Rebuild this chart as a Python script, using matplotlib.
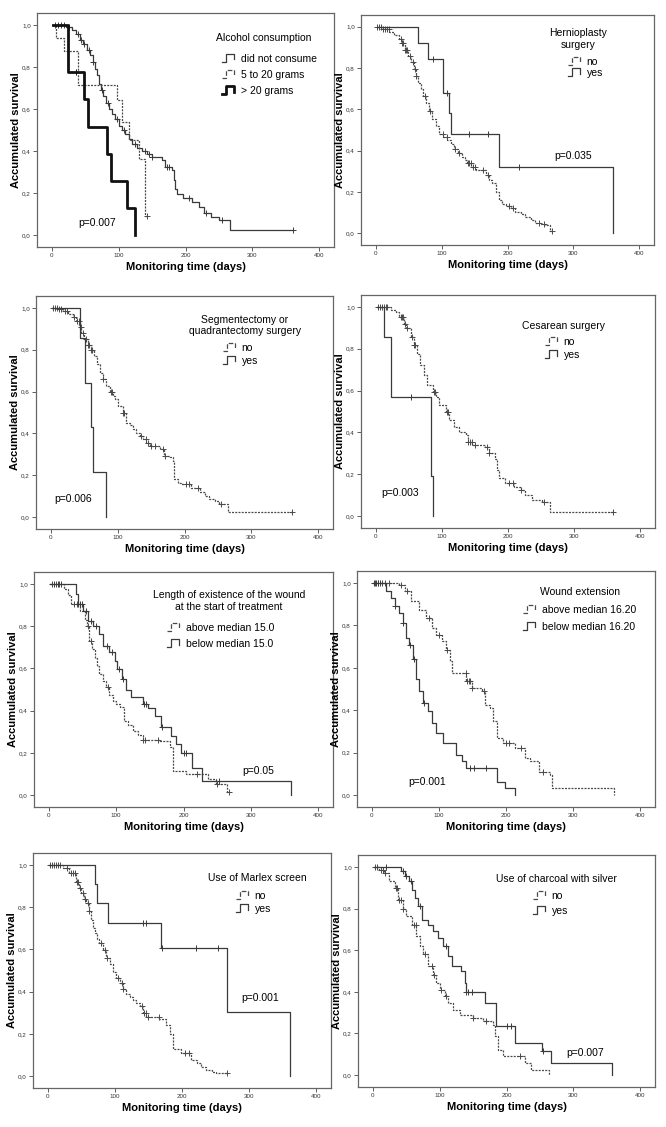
import numpy as np
import matplotlib
matplotlib.use("Agg")
import matplotlib.pyplot as plt
from matplotlib.lines import Line2D
from matplotlib.legend_handler import HandlerBase
from matplotlib.ticker import FuncFormatter

plt.rcParams["font.family"] = ["Liberation Sans", "DejaVu Sans"]

# ---- data (event times / survival after event / censored times)
# Alcohol consumption
alc_none_t = [22, 30, 36, 42, 47, 52, 57, 61, 64, 67, 70, 73, 77, 81, 86, 90, 95, 100, 105, 110, 115,
              120, 128, 135, 142, 150, 165, 170, 180, 183, 185, 188, 196, 210, 220, 228, 238, 250, 266]
alc_none_s = [0.99, 0.975, 0.955, 0.93, 0.91, 0.88, 0.855, 0.825, 0.79, 0.76, 0.72, 0.69, 0.66, 0.63,
              0.60, 0.575, 0.55, 0.52, 0.50, 0.48, 0.455, 0.435, 0.415, 0.40, 0.385, 0.37, 0.355, 0.325,
              0.31, 0.26, 0.22, 0.195, 0.175, 0.155, 0.135, 0.105, 0.085, 0.07, 0.025]
alc_none_c = [5, 10, 14, 18, 26, 40, 44, 48, 55, 62, 75, 84, 98, 108, 125, 140, 145, 150, 172, 175,
              205, 230, 255, 361]
alc_mid_t = [7, 19, 40, 97, 105, 115, 130, 140]
alc_mid_s = [0.94, 0.875, 0.715, 0.643, 0.54, 0.453, 0.361, 0.089]
alc_mid_c = [143]
alc_high_t = [24, 48, 54, 82, 88, 112, 124]
alc_high_s = [0.775, 0.646, 0.516, 0.387, 0.258, 0.129, 0.0]
alc_high_c = [36]

# Hernioplasty surgery
hern_no_t = [12, 21, 28, 36, 40, 44, 49, 54, 58, 61, 65, 69, 72, 76, 81, 86, 91, 96, 103, 109, 114,
             119, 125, 131, 136, 139, 145, 152, 167, 172, 177, 182, 187, 192, 197, 205, 212, 220, 227,
             235, 242, 250, 257, 264]
hern_no_s = [0.99, 0.973, 0.96, 0.94, 0.92, 0.887, 0.86, 0.83, 0.795, 0.76, 0.73, 0.70, 0.665, 0.63,
             0.59, 0.555, 0.52, 0.48, 0.465, 0.45, 0.43, 0.41, 0.39, 0.37, 0.355, 0.34, 0.32, 0.305,
             0.28, 0.26, 0.245, 0.20, 0.16, 0.14, 0.13, 0.12, 0.105, 0.095, 0.08, 0.065, 0.05, 0.045,
             0.04, 0.01]
hern_no_c = [3, 6, 9, 12, 15, 18, 20, 38, 40, 42, 44, 46, 48, 52, 57, 60, 62, 75, 82, 102, 108, 121,
             127, 140, 142, 144, 147, 150, 163, 170, 203, 208, 248, 255, 267]
hern_yes_t = [65, 80, 103, 111, 115, 187, 360]
hern_yes_s = [0.923, 0.846, 0.677, 0.580, 0.483, 0.322, 0.0]
hern_yes_c = [87, 109, 141, 170, 218]

# Segmentectomy or quadrantectomy surgery
seg_no_t = [10, 19, 26, 33, 38, 43, 46, 50, 55, 60, 64, 69, 74, 78, 83, 88, 93, 96, 101, 108, 113,
            118, 123, 128, 133, 138, 143, 148, 163, 170, 178, 183, 185, 190, 195, 210, 223, 230, 237,
            245, 252, 265]
seg_no_s = [0.995, 0.984, 0.97, 0.955, 0.937, 0.91, 0.88, 0.85, 0.825, 0.80, 0.77, 0.73, 0.69, 0.66,
            0.626, 0.60, 0.58, 0.563, 0.53, 0.50, 0.45, 0.44, 0.42, 0.404, 0.39, 0.372, 0.355, 0.34,
            0.325, 0.293, 0.285, 0.27, 0.18, 0.165, 0.157, 0.14, 0.118, 0.10, 0.086, 0.075, 0.062, 0.022]
seg_no_c = [3, 6, 9, 13, 16, 21, 24, 35, 40, 42, 45, 48, 52, 55, 57, 60, 62, 78, 90, 92, 108, 110,
            135, 142, 145, 150, 156, 168, 171, 202, 207, 220, 255, 361]
seg_yes_t = [44, 51, 60, 63, 82]
seg_yes_s = [0.857, 0.643, 0.429, 0.214, 0.0]
seg_yes_c = []

# Cesarean surgery
ces_no_t = [23, 31, 36, 43, 46, 53, 58, 63, 67, 73, 78, 86, 91, 96, 106, 111, 118, 126, 136, 139,
            146, 166, 171, 181, 184, 186, 196, 209, 219, 226, 236, 251, 264]
ces_no_s = [0.984, 0.976, 0.952, 0.92, 0.897, 0.857, 0.817, 0.777, 0.72, 0.674, 0.626, 0.594, 0.57,
            0.53, 0.497, 0.458, 0.427, 0.403, 0.387, 0.355, 0.34, 0.33, 0.30, 0.275, 0.22, 0.18, 0.156,
            0.14, 0.124, 0.10, 0.076, 0.065, 0.02]
ces_no_c = [3, 6, 9, 12, 15, 18, 38, 40, 42, 45, 47, 55, 58, 60, 88, 90, 108, 110, 140, 142, 145, 150,
            168, 172, 202, 207, 220, 255, 359]
ces_yes_t = [12, 24, 83, 86]
ces_yes_s = [0.857, 0.571, 0.19, 0.0]
ces_yes_c = [53]

# Length of existence of the wound at the start of treatment
len_above_t = [23, 28, 33, 46, 53, 56, 60, 64, 68, 72, 75, 80, 85, 90, 95, 100, 105, 112, 118, 125,
               132, 140, 165, 180, 184, 204, 236, 249, 264]
len_above_s = [0.976, 0.95, 0.905, 0.874, 0.83, 0.80, 0.73, 0.69, 0.65, 0.61, 0.573, 0.54, 0.51, 0.475,
               0.447, 0.43, 0.415, 0.35, 0.33, 0.305, 0.285, 0.262, 0.257, 0.226, 0.115, 0.10, 0.076,
               0.052, 0.013]
len_above_c = [5, 10, 15, 38, 42, 58, 62, 88, 140, 143, 162, 220, 250, 267]
len_below_t = [41, 43, 51, 58, 65, 74, 80, 90, 98, 101, 108, 115, 122, 140, 148, 157, 167, 182, 189,
               197, 212, 227, 360]
len_below_s = [0.953, 0.905, 0.874, 0.826, 0.80, 0.763, 0.708, 0.676, 0.637, 0.597, 0.55, 0.50, 0.463,
               0.43, 0.41, 0.376, 0.32, 0.28, 0.24, 0.20, 0.13, 0.068, 0.0]
len_below_c = [8, 14, 18, 44, 47, 50, 55, 62, 70, 86, 94, 104, 110, 141, 145, 168, 200, 204, 252]

# Wound extension
ext_above_t = [41, 49, 59, 71, 81, 89, 96, 104, 111, 116, 119, 141, 149, 164, 169, 176, 181, 186, 196,
               214, 229, 236, 249, 266, 269, 361]
ext_above_s = [0.99, 0.962, 0.915, 0.875, 0.836, 0.79, 0.757, 0.725, 0.686, 0.63, 0.576, 0.536, 0.505,
               0.489, 0.426, 0.41, 0.347, 0.268, 0.245, 0.22, 0.173, 0.158, 0.11, 0.095, 0.035, 0.0]
ext_above_c = [5, 10, 15, 20, 25, 43, 52, 86, 100, 112, 140, 142, 145, 147, 150, 167, 200, 205, 222, 255]
ext_below_t = [21, 29, 34, 41, 46, 51, 56, 61, 66, 70, 76, 84, 89, 96, 106, 126, 134, 141, 186, 199, 214]
ext_below_s = [0.962, 0.93, 0.89, 0.86, 0.81, 0.74, 0.71, 0.64, 0.545, 0.49, 0.434, 0.394, 0.34, 0.29,
               0.245, 0.19, 0.158, 0.126, 0.063, 0.032, 0.0]
ext_below_c = [3, 6, 9, 12, 35, 47, 57, 63, 78, 147, 152, 170]

# Use of Marlex screen
marl_no_t = [22, 32, 42, 46, 50, 54, 57, 61, 65, 68, 70, 74, 77, 82, 87, 92, 97, 102, 107, 112, 117,
             122, 127, 132, 137, 142, 147, 166, 176, 182, 186, 199, 214, 222, 229, 236, 244, 251]
marl_no_s = [0.984, 0.96, 0.92, 0.89, 0.866, 0.84, 0.818, 0.78, 0.74, 0.70, 0.676, 0.65, 0.63, 0.595,
             0.56, 0.53, 0.494, 0.465, 0.44, 0.41, 0.39, 0.375, 0.36, 0.345, 0.33, 0.30, 0.28, 0.27,
             0.24, 0.20, 0.13, 0.108, 0.076, 0.06, 0.044, 0.028, 0.02, 0.013]
marl_no_c = [3, 6, 9, 12, 15, 18, 28, 35, 38, 41, 43, 45, 48, 52, 55, 60, 62, 80, 85, 88, 105, 110,
             112, 140, 143, 146, 150, 165, 205, 210, 267]
marl_yes_t = [70, 74, 90, 168, 267, 361]
marl_yes_s = [0.909, 0.818, 0.727, 0.606, 0.303, 0.0]
marl_yes_c = [142, 146, 170, 221, 253]

# Use of charcoal with silver
char_no_t = [10, 17, 25, 33, 38, 45, 50, 59, 65, 70, 75, 83, 90, 95, 100, 108, 113, 120, 130, 150, 165,
             180, 183, 188, 195, 228, 236, 264]
char_no_s = [0.987, 0.97, 0.93, 0.90, 0.843, 0.80, 0.763, 0.72, 0.667, 0.62, 0.58, 0.523, 0.483,
             0.443, 0.41, 0.378, 0.347, 0.315, 0.29, 0.275, 0.258, 0.24, 0.187, 0.123, 0.09, 0.059,
             0.027, 0.0]
char_no_c = [3, 6, 12, 15, 18, 35, 37, 40, 42, 45, 62, 64, 78, 88, 92, 102, 110, 150, 170, 220]
char_yes_t = [42, 48, 54, 59, 63, 68, 74, 83, 90, 98, 105, 112, 118, 132, 138, 140, 168, 184, 213, 253,
              266, 358]
char_yes_s = [0.98, 0.955, 0.93, 0.89, 0.85, 0.81, 0.747, 0.72, 0.69, 0.66, 0.62, 0.57, 0.523, 0.50,
              0.443, 0.40, 0.346, 0.235, 0.155, 0.115, 0.059, 0.0]
char_yes_c = [20, 45, 50, 57, 70, 110, 140, 143, 148, 200, 206, 255]

# ---- styles
SOLID = dict(color="#3a3a3a", lw=0.9, ls="-")
DOTTED = dict(color="#4a4a4a", lw=0.9, ls=(0, (1.6, 1.0)))
THICK = dict(color="#111111", lw=2.0, ls="-")
FS = 7.5


class StepHandler(HandlerBase):
    # little "_П" glyph like the SPSS legend
    def create_artists(self, legend, orig_handle, xdescent, ydescent, width, height, fontsize, trans):
        xs = np.array([0.0, 0.35, 0.35, 0.95, 0.95]) * width - xdescent
        ys = np.array([0.0, 0.0, 1.0, 1.0, 0.3]) * height * 1.1 - ydescent
        ln = Line2D(xs, ys, color=orig_handle.get_color(), lw=orig_handle.get_linewidth(),
                    ls=orig_handle.get_linestyle())
        ln.set_transform(trans)
        return [ln]


def km(ax, t, s, c, style):
    t = np.asarray(t, float)
    s = np.asarray(s, float)
    c = np.asarray(c, float)
    end = max(t.max(), c.max() if c.size else 0)
    xs = np.r_[2, t, end]
    ys = np.r_[1.0, s, s[-1]]
    line, = ax.step(xs, ys, where="post", **style)
    if c.size:
        idx = np.searchsorted(t, c, side="right") - 1
        cy = np.where(idx >= 0, s[np.clip(idx, 0, None)], 1.0)
        ax.plot(c, cy, "+", color=style["color"], ms=4, mew=0.7, ls="none")
    return line


fig = plt.figure(figsize=(6.66, 11.27), dpi=100)
W, H = 666, 1127


def fx(px):
    return px / W


def fy(py):
    return 1 - py / H


def make_ax(x0, y0, x1, y1):
    ax = fig.add_axes([fx(x0), fy(y1), (x1 - x0) / W, (y1 - y0) / H])
    ax.set_xlim(-22, 422)
    ax.set_ylim(-0.057, 1.057)
    ax.set_xticks([0, 100, 200, 300, 400])
    ax.set_yticks([0, 0.2, 0.4, 0.6, 0.8, 1.0])
    ax.yaxis.set_major_formatter(FuncFormatter(lambda v, p: f"{v:.1f}".replace(".", ",")))
    ax.tick_params(direction="out", length=3, width=0.6, labelsize=4.5, pad=1.5,
                   colors="#444444", labelcolor="#333333")
    for sp in ax.spines.values():
        sp.set_color("#666666")
        sp.set_linewidth(0.9)
    ax.set_xlabel("Monitoring time (days)", fontsize=8, fontweight="bold", labelpad=3)
    ax.set_ylabel("Accumulated survival", fontsize=8, fontweight="bold")
    ax.yaxis.set_label_coords(-16 / (x1 - x0), 0.5)
    return ax


def legend(ax, handles, labels, title, title_xy, left, ymid, spacing):
    # title centred over the entries, entries anchored by their left edge (pixel positions)
    fig.text(fx(title_xy[0]), fy(title_xy[1]), title, ha="center", va="center",
             multialignment="center", fontsize=FS, linespacing=1.15)
    ax.legend(handles, labels, loc="center left", bbox_to_anchor=(fx(left), fy(ymid)),
              bbox_transform=fig.transFigure, frameon=False, fontsize=FS, handlelength=1.2,
              handletextpad=0.6, labelspacing=spacing, borderpad=0, borderaxespad=0,
              handler_map={Line2D: StepHandler()})


# panel 1
ax = make_ax(37, 13, 334, 247)
h1 = km(ax, alc_none_t, alc_none_s, alc_none_c, SOLID)
h2 = km(ax, alc_mid_t, alc_mid_s, alc_mid_c, DOTTED)
h3 = km(ax, alc_high_t, alc_high_s, alc_high_c, THICK)
legend(ax, [h1, h2, h3], ["did not consume", "5 to 20 grams", "> 20 grams"],
       "Alcohol consumption", (264, 38), 222, 75, 0.61)
ax.text(39, 0.055, "p=0.007", fontsize=FS, va="center")

# panel 2
ax = make_ax(361, 15, 654, 245)
h1 = km(ax, hern_no_t, hern_no_s, hern_no_c, DOTTED)
h2 = km(ax, hern_yes_t, hern_yes_s, hern_yes_c, SOLID)
legend(ax, [h1, h2], ["no", "yes"], "Hernioplasty\nsurgery", (578, 39), 568, 67.5, 0.17)
ax.text(271, 0.373, "p=0.035", fontsize=FS, va="center")

# panel 3
ax = make_ax(36, 296, 333, 529)
h1 = km(ax, seg_no_t, seg_no_s, seg_no_c, DOTTED)
h2 = km(ax, seg_yes_t, seg_yes_s, seg_yes_c, SOLID)
legend(ax, [h1, h2], ["no", "yes"], "Segmentectomy or\nquadrantectomy surgery", (245, 325.5),
       223, 354.5, 0.24)
ax.text(5, 0.086, "p=0.006", fontsize=FS, va="center")

# panel 4
ax = make_ax(361, 295, 655, 528)
h1 = km(ax, ces_no_t, ces_no_s, ces_no_c, DOTTED)
h2 = km(ax, ces_yes_t, ces_yes_s, ces_yes_c, SOLID)
legend(ax, [h1, h2], ["no", "yes"], "Cesarean surgery", (563, 326), 545, 348.7, 0.27)
ax.text(8, 0.108, "p=0.003", fontsize=FS, va="center")

# panel 5
ax = make_ax(34, 572, 333, 807)
h1 = km(ax, len_above_t, len_above_s, len_above_c, DOTTED)
h2 = km(ax, len_below_t, len_below_s, len_below_c, SOLID)
legend(ax, [h1, h2], ["above median 15.0", "below median 15.0"],
       "Length of existence of the wound\nat the start of treatment", (229, 601), 167, 636, 0.56)
ax.text(287, 0.112, "p=0.05", fontsize=FS, va="center")

# panel 6
ax = make_ax(357, 571, 655, 807)
h1 = km(ax, ext_above_t, ext_above_s, ext_above_c, DOTTED)
h2 = km(ax, ext_below_t, ext_below_s, ext_below_c, SOLID)
legend(ax, [h1, h2], ["above median 16.20", "below median 16.20"],
       "Wound extension", (580, 592.3), 523, 618.3, 0.66)
ax.text(55, 0.063, "p=0.001", fontsize=FS, va="center")

# panel 7
ax = make_ax(33, 853, 331, 1088)
h1 = km(ax, marl_no_t, marl_no_s, marl_no_c, DOTTED)
h2 = km(ax, marl_yes_t, marl_yes_s, marl_yes_c, SOLID)
legend(ax, [h1, h2], ["no", "yes"], "Use of Marlex screen", (257, 878.3), 236, 902.5, 0.36)
ax.text(288, 0.368, "p=0.001", fontsize=FS, va="center")

# panel 8
ax = make_ax(358, 855, 655, 1087)
h1 = km(ax, char_no_t, char_no_s, char_no_c, DOTTED)
h2 = km(ax, char_yes_t, char_yes_s, char_yes_c, SOLID)
legend(ax, [h1, h2], ["no", "yes"], "Use of charcoal with silver", (556, 879), 533, 903.3, 0.46)
ax.text(289, 0.107, "p=0.007", fontsize=FS, va="center")

fig.savefig("out.png", dpi=100)
